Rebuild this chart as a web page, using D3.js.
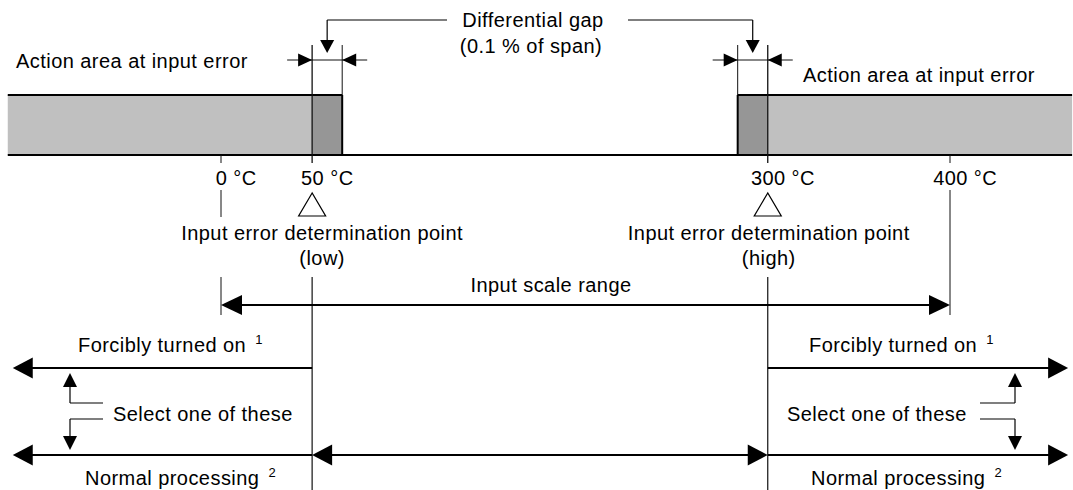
<!DOCTYPE html>
<html>
<head>
<meta charset="utf-8">
<script src="https://cdn.jsdelivr.net/npm/d3@7"></script>
<style>
  html, body { margin: 0; padding: 0; background: #fff; }
  svg { display: block; }
  text { font-family: "Liberation Sans", Arial, sans-serif; font-size: 20px; letter-spacing: 0.45px; fill: #000; }
</style>
</head>
<body>
<svg id="chart" width="1073" height="490"></svg>
<script>
// ---------------- data ----------------
const tempTicks = [0, 50, 300, 400];
const tickLabels = ["0", "50", "300", "400"];
const unitLabel = "°C";
const determinationPoints = [50, 300];
const determinationTitles = ["Input error determination point", "Input error determination point"];
const determinationSubs = ["(low)", "(high)"];
const inputScaleRange = [0, 400];
const drawnExtent = [-117, 467];       // °C at the ends of the drawn bar/baseline
const gapWidth = 16.5;                 // drawn width (°C) of the differential gap band
const actionLabel = "Action area at input error";
const gapTitle = ["Differential gap", "(0.1 % of span)"];
const rangeLabel = "Input scale range";
const forcedLabel = "Forcibly turned on";
const normalLabel = "Normal processing";
const selectLabel = "Select one of these";
const noteMarks = ["1", "2"];

// ---------------- layout ----------------
const svg = d3.select("#chart");
const x = d3.scaleLinear().domain(inputScaleRange).range([221, 950]);
const xMin = x(drawnExtent[0]), xMax = x(drawnExtent[1]);
const xLow = x(determinationPoints[0]), xHigh = x(determinationPoints[1]);
const xLowGap = x(determinationPoints[0] + gapWidth), xHighGap = x(determinationPoints[1] - gapWidth);

const barTop = 95, barBase = 155;
const LIGHT = "#c0c0c0", DARK = "#969696";

function line(x1, y1, x2, y2, w, c) {
  svg.append("line").attr("x1", x1).attr("y1", y1).attr("x2", x2).attr("y2", y2)
    .attr("stroke", c || "#000").attr("stroke-width", w || 1);
}
function head(tx, ty, dir, len, half) {
  let pts;
  if (dir === "right") pts = [[tx, ty], [tx - len, ty - half], [tx - len, ty + half]];
  if (dir === "left")  pts = [[tx, ty], [tx + len, ty - half], [tx + len, ty + half]];
  if (dir === "down")  pts = [[tx, ty], [tx - half, ty - len], [tx + half, ty - len]];
  if (dir === "up")    pts = [[tx, ty], [tx - half, ty + len], [tx + half, ty + len]];
  svg.append("polygon").attr("points", pts.map(p => p.join(",")).join(" ")).attr("fill", "#000");
}
function text(str, tx, ty, anchor) {
  return svg.append("text").attr("x", tx).attr("y", ty).attr("text-anchor", anchor || "start").text(str);
}
function textSup(str, sup, tx, ty, anchor) {
  const t = svg.append("text").attr("x", tx).attr("y", ty).attr("text-anchor", anchor || "start");
  t.append("tspan").text(str + " ");
  t.append("tspan").attr("font-size", "13px").attr("dx", 3).attr("dy", -8).text(sup);
  return t;
}

// ---------------- bars ----------------
svg.append("rect").attr("x", xMin).attr("y", barTop).attr("width", xLow - xMin).attr("height", barBase - barTop).attr("fill", LIGHT);
svg.append("rect").attr("x", xLow).attr("y", barTop).attr("width", xLowGap - xLow).attr("height", barBase - barTop).attr("fill", DARK);
svg.append("rect").attr("x", xHighGap).attr("y", barTop).attr("width", xHigh - xHighGap).attr("height", barBase - barTop).attr("fill", DARK);
svg.append("rect").attr("x", xHigh).attr("y", barTop).attr("width", xMax - xHigh).attr("height", barBase - barTop).attr("fill", LIGHT);

// outlines
line(xMin, barTop, xLowGap, barTop, 2);
line(xLowGap, barTop, xLowGap, barBase, 2);
line(xHighGap, barTop, xMax, barTop, 2);
line(xHighGap, barTop, xHighGap, barBase, 2);
line(xMin, barBase, xMax, barBase, 2);

// gap extension lines
line(xLow, 45, xLow, 163, 1.3, "#111");
line(xLowGap, 45, xLowGap, barTop, 1, "#111");
line(xHighGap, 45, xHighGap, barTop, 1, "#111");
line(xHigh, 45, xHigh, 163, 1.3, "#111");

// gap dimension arrows
const dimY = 60;
line(xLow - 25, dimY, xLowGap + 25, dimY, 1, "#111");
head(xLow, dimY, "right", 14, 6.5);
head(xLowGap, dimY, "left", 14, 6.5);
line(xHighGap - 25, dimY, xHigh + 25, dimY, 1, "#111");
head(xHighGap, dimY, "right", 14, 6.5);
head(xHigh, dimY, "left", 14, 6.5);

// differential gap bracket
const cLow = (xLow + xLowGap) / 2, cHigh = (xHigh + xHighGap) / 2;
line(cLow, 20, 447, 20, 1.2);
line(cLow, 20, cLow, 42, 1.2);
head(cLow, 53, "down", 13, 7);
line(628, 20, cHigh, 20, 1.2);
line(cHigh, 20, cHigh, 42, 1.2);
head(cHigh, 53, "down", 13, 7);
text(gapTitle[0], 533, 27, "middle");
text(gapTitle[1], 531, 53, "middle");

// action labels
text(actionLabel, 16, 68);
text(actionLabel, 803, 82);

// ---------------- ticks & labels ----------------
[tempTicks[0], tempTicks[3]].forEach(v => line(x(v), barBase, x(v), 163, 1, "#111"));
tempTicks.forEach((v, i) => {
  const t = svg.append("text").attr("x", x(v)).attr("y", 185);
  const n = t.append("tspan").text(tickLabels[i]);
  t.append("tspan").text(" " + unitLabel);
  const w = n.node().getComputedTextLength();
  t.attr("x", x(v) - w / 2 + 0.5);
});
// lines under 0 °C and 400 °C
line(x(inputScaleRange[0]), 190, x(inputScaleRange[0]), 217, 1, "#111");
line(x(inputScaleRange[0]), 277, x(inputScaleRange[0]), 315, 1, "#111");
line(x(inputScaleRange[1]), 190, x(inputScaleRange[1]), 315, 1, "#111");

// determination triangles and labels
const labelShift = [10, 1];
determinationPoints.forEach((v, i) => {
  const cx = x(v);
  svg.append("polygon")
    .attr("points", [[cx, 193], [cx - 13.5, 216], [cx + 13.5, 216]].map(p => p.join(",")).join(" "))
    .attr("fill", "#fff").attr("stroke", "#000").attr("stroke-width", 1.2);
  text(determinationTitles[i], cx + labelShift[i], 240, "middle");
  text(determinationSubs[i], cx + labelShift[i], 265, "middle");
  line(cx, 277, cx, 490, 1.2, "#111");
});

// ---------------- input scale range ----------------
const rangeY = 305;
line(x(inputScaleRange[0]) + 10, rangeY, x(inputScaleRange[1]) - 10, rangeY, 2);
head(x(inputScaleRange[0]), rangeY, "left", 21, 10);
head(x(inputScaleRange[1]), rangeY, "right", 21, 10);
text(rangeLabel, 551, 292, "middle");

// ---------------- output behaviour ----------------
const tipL = xMin + 5, tipR = xMax - 4;
const forcedY = 368, normalY = 455;
// forcibly on
line(xLow, forcedY, tipL + 10, forcedY, 2);
head(tipL, forcedY, "left", 20, 10.5);
line(xHigh, forcedY, tipR - 10, forcedY, 2);
head(tipR, forcedY, "right", 20, 10.5);
textSup(forcedLabel, noteMarks[0], 78, 352);
textSup(forcedLabel, noteMarks[0], 809, 352);
// normal processing
line(xLow, normalY, tipL + 10, normalY, 2);
head(tipL, normalY, "left", 20, 10.5);
line(xHigh, normalY, tipR - 10, normalY, 2);
head(tipR, normalY, "right", 20, 10.5);
line(xLow + 10, normalY, xHigh - 10, normalY, 2);
head(xLow, normalY, "left", 20, 10.5);
head(xHigh, normalY, "right", 20, 10.5);
textSup(normalLabel, noteMarks[1], 85, 485);
textSup(normalLabel, noteMarks[1], 811, 485);

// select one of these
const selUp = 403, selDown = 419;
line(70, selUp, 103, selUp, 1.2);
line(70, selUp, 70, 385, 1.2);
head(70, forcedY + 5, "up", 14, 7);
line(70, selDown, 103, selDown, 1.2);
line(70, selDown, 70, 438, 1.2);
head(70, normalY - 5, "down", 14, 7);
text(selectLabel, 113, 421);

line(980, selUp, 1015, selUp, 1.2);
line(1015, selUp, 1015, 385, 1.2);
head(1015, forcedY + 5, "up", 14, 7);
line(980, selDown, 1015, selDown, 1.2);
line(1015, selDown, 1015, 438, 1.2);
head(1015, normalY - 5, "down", 14, 7);
text(selectLabel, 787, 421);
</script>
</body>
</html>
